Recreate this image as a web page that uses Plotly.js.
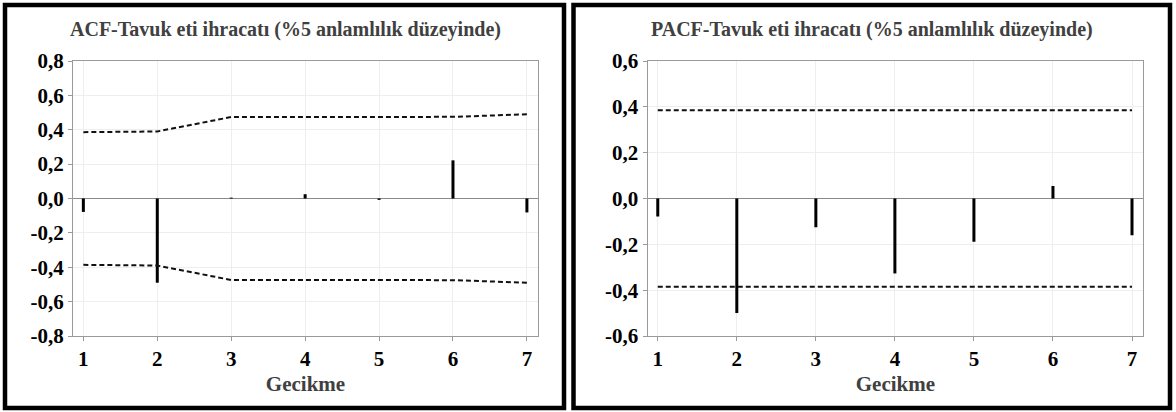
<!DOCTYPE html>
<html>
<head>
<meta charset="utf-8">
<script src="https://cdn.plot.ly/plotly-3.0.1.min.js"></script>
<style>html,body{margin:0;padding:0;background:#fff;}#chart{width:1176px;height:412px;}</style>
</head>
<body>
<div id="chart"></div>
<script>
// ---- data ----
const lags = [1, 2, 3, 4, 5, 6, 7];
const acfValues = [-0.078, -0.49, 0.005, 0.025, -0.008, 0.222, -0.081];
const acfUpper = [0.386, 0.390, 0.474, 0.474, 0.474, 0.475, 0.490];
const acfLower = [-0.386, -0.390, -0.474, -0.474, -0.474, -0.475, -0.490];
const pacfValues = [-0.079, -0.50, -0.125, -0.327, -0.189, 0.054, -0.160];
const pacfUpper = [0.385, 0.385, 0.385, 0.385, 0.385, 0.385, 0.385];
const pacfLower = [-0.385, -0.385, -0.385, -0.385, -0.385, -0.385, -0.385];
const acfTitle = "ACF-Tavuk eti ihracatı (%5 anlamlılık düzeyinde)";
const pacfTitle = "PACF-Tavuk eti ihracatı (%5 anlamlılık düzeyinde)";
const xTitle = "Gecikme";
const acfTicks = [-0.8, -0.6, -0.4, -0.2, 0, 0.2, 0.4, 0.6, 0.8];
const pacfTicks = [-0.6, -0.4, -0.2, 0, 0.2, 0.4, 0.6];

// ---- helpers ----
function stems(xs, ys) {
  const sx = [], sy = [];
  xs.forEach((x, i) => { sx.push(x, x, null); sy.push(0, ys[i], null); });
  return {sx, sy};
}
const W = 1176, H = 412;
const px = v => v / W, py = v => 1 - v / H;
const FONT = "Liberation Serif";

const a = stems(lags, acfValues), p = stems(lags, pacfValues);
const stemLine = {color: '#000', width: 3};
const dashLine = {color: '#111', width: 2, dash: '5px,3px'};

const traces = [
  {x: a.sx, y: a.sy, xaxis: 'x', yaxis: 'y', mode: 'lines', line: stemLine, hoverinfo: 'skip'},
  {x: lags, y: acfUpper, xaxis: 'x', yaxis: 'y', mode: 'lines', line: dashLine},
  {x: lags, y: acfLower, xaxis: 'x', yaxis: 'y', mode: 'lines', line: dashLine},
  {x: p.sx, y: p.sy, xaxis: 'x2', yaxis: 'y2', mode: 'lines', line: stemLine, hoverinfo: 'skip'},
  {x: lags, y: pacfUpper, xaxis: 'x2', yaxis: 'y2', mode: 'lines', line: dashLine},
  {x: lags, y: pacfLower, xaxis: 'x2', yaxis: 'y2', mode: 'lines', line: dashLine}
];

const tickFont = {family: FONT, size: 21, color: '#000', weight: 'bold'};
const axisCommon = {
  showline: true, mirror: true, linecolor: '#9a9a9a', linewidth: 1,
  showgrid: true, gridcolor: '#eeeeee', gridwidth: 1,
  ticks: 'outside', ticklen: 4, tickcolor: '#9a9a9a', tickwidth: 1,
  tickfont: tickFont, fixedrange: true
};
const xCommon = Object.assign({}, axisCommon, {
  tickmode: 'array', tickvals: lags, ticktext: lags.map(String), zeroline: false,
  title: {text: '<b>' + xTitle + '</b>', font: {family: FONT, size: 21, color: '#404040'}, standoff: 6}
});
function yAxis(ticks, range, dom) {
  return Object.assign({}, axisCommon, {
    range: range, tickmode: 'array', tickvals: ticks,
    ticktext: ticks.map(t => t.toFixed(1).replace('.', ',')),
    zeroline: true, zerolinecolor: '#8a8a8a', zerolinewidth: 1, domain: dom
  });
}
const yDom = [py(336), py(61)];

const layout = {
  width: W, height: H, margin: {l: 0, r: 0, t: 0, b: 0},
  paper_bgcolor: '#fff', plot_bgcolor: '#fff', showlegend: false,
  font: {family: FONT},
  xaxis: Object.assign({}, xCommon, {range: [0.86, 7.15], domain: [px(73), px(538)], anchor: 'y'}),
  yaxis: Object.assign(yAxis(acfTicks, [-0.8, 0.8], yDom), {anchor: 'x'}),
  xaxis2: Object.assign({}, xCommon, {range: [0.87, 7.143], domain: [px(647.5), px(1143.3)], anchor: 'y2'}),
  yaxis2: Object.assign(yAxis(pacfTicks, [-0.6, 0.6], yDom), {anchor: 'x2'}),
  annotations: [
    {text: '<b>' + acfTitle + '</b>', xref: 'paper', yref: 'paper', x: px(285), y: py(30), showarrow: false,
     xanchor: 'center', yanchor: 'middle', font: {family: FONT, size: 20, color: '#404040'}},
    {text: '<b>' + pacfTitle + '</b>', xref: 'paper', yref: 'paper', x: px(872), y: py(30), showarrow: false,
     xanchor: 'center', yanchor: 'middle', font: {family: FONT, size: 20, color: '#404040'}}
  ],
  shapes: [
    {type: 'rect', xref: 'paper', yref: 'paper', x0: px(5), x1: px(564), y0: py(408), y1: py(5),
     line: {color: '#000', width: 4.5}},
    {type: 'rect', xref: 'paper', yref: 'paper', x0: px(573.5), x1: px(1170), y0: py(408), y1: py(5),
     line: {color: '#000', width: 4.5}}
  ]
};

Plotly.newPlot('chart', traces, layout, {displayModeBar: false, staticPlot: true});
</script>
</body>
</html>
